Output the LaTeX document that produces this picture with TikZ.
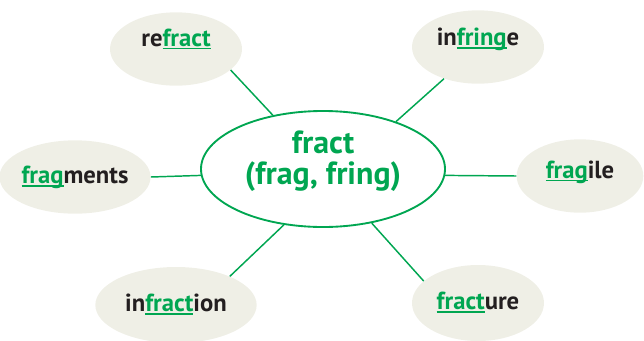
\documentclass[tikz,border=0pt]{standalone}
\usepackage{fontspec}
\setmainfont{PT Sans}
\usetikzlibrary{shapes.geometric}

\definecolor{rootgreen}{RGB}{0,166,81}
\definecolor{wordfill}{RGB}{239,239,230}
\definecolor{wordtext}{RGB}{35,31,32}

% green word part with its underline
\newcommand{\rootpart}[1]{\textcolor{rootgreen}{\setbox0=\hbox{#1}\rlap{\rule[-2.2pt]{\wd0}{1pt}}\box0}}

\begin{document}
\begin{tikzpicture}[
    x=0.75pt, y=-0.75pt,
    root/.style={draw=rootgreen, line width=1.4pt, ellipse, minimum width=183pt, minimum height=87pt,
        inner sep=0pt, text=rootgreen, font=\bfseries\fontsize{24}{22}\selectfont},
    word/.style={ellipse, fill=wordfill, minimum width=99pt, minimum height=55pt, inner sep=0pt,
        text height=10pt, text depth=14.5pt, text=wordtext, font=\bfseries\fontsize{18.5}{20}\selectfont},
    link/.style={draw=rootgreen, line width=1.1pt}
]
\useasboundingbox (0,0) rectangle (644,340);

% Centre
\node[root] (root) at (323,169)
    {\raisebox{0pt}[5pt][29pt]{\begin{tabular}[t]{@{}c@{}}fract\\(frag, fring)\end{tabular}}};

% Words round it
\node[word] (refract) at (176,49) {re\rootpart{fract}};
\node[word, text depth=12pt] (infringe) at (478,47) {in\rootpart{fring}e};
\node[word, minimum width=101pt, text depth=0pt] (fragments) at (75,177) {\rootpart{frag}ments};
\node[word, minimum width=95pt, text depth=7pt] (fragile) at (580,176) {\rootpart{frag}ile};
\node[word, minimum width=121pt, minimum height=57pt, text depth=-2pt] (infraction) at (176,305) {in\rootpart{fract}ion};
\node[word, minimum height=57pt, text depth=0pt] (fracture) at (478,303) {\rootpart{fract}ure};

% Links
\draw[link] (root.133) -- (refract.-21);
\draw[link] (root.33) -- (infringe.223);
\draw[link] (root.183) -- (fragments.east);
\draw[link] (root.-3) -- (fragile.west);
\draw[link] (root.235) -- (infraction.28);
\draw[link] (root.-48) -- (fracture.158);

\end{tikzpicture}
\end{document}
